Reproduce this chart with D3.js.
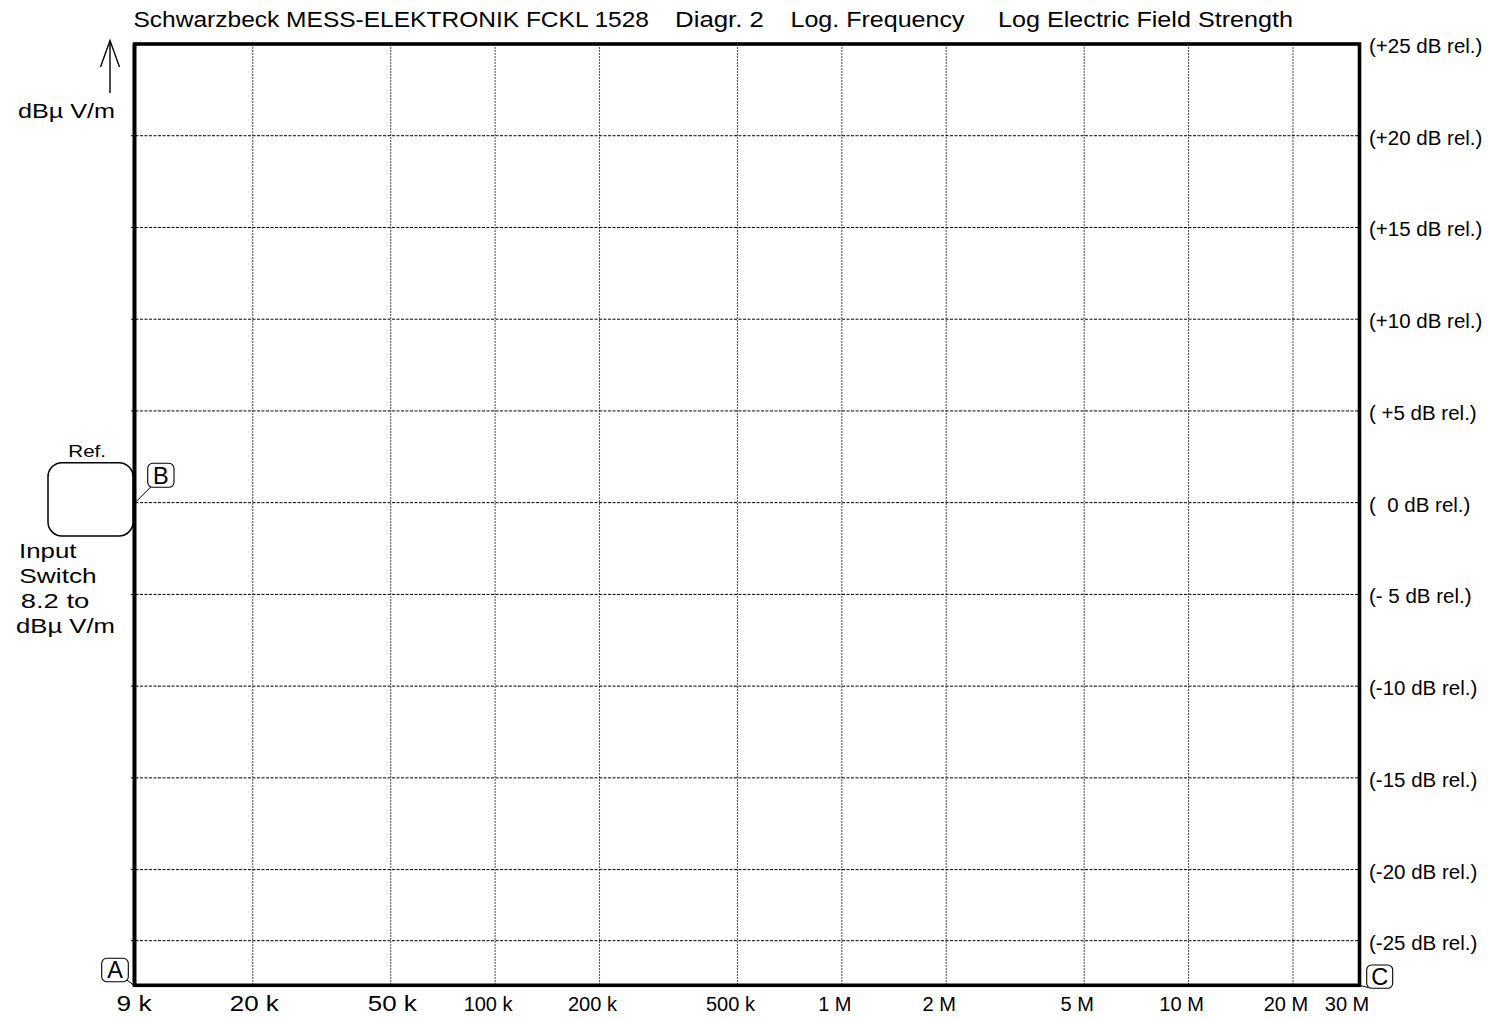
<!DOCTYPE html>
<html><head><meta charset="utf-8">
<script src="https://cdn.jsdelivr.net/npm/d3@7"></script>
<style>
html,body{margin:0;padding:0;background:#fff;}
svg text{font-family:"Liberation Sans",Arial,Helvetica,sans-serif;white-space:pre;fill:#000;}
</style>
</head><body>
<svg id="chart" width="1488" height="1018"></svg>
<script>
// ---- data ----
const titleParts = ["Schwarzbeck MESS-ELEKTRONIK FCKL 1528", "Diagr. 2", "Log. Frequency", "Log Electric Field Strength"];
const freqTicks  = [9e3, 2e4, 5e4, 1e5, 2e5, 5e5, 1e6, 2e6, 5e6, 1e7, 2e7, 3e7];
const freqLabels = ["9 k", "20 k", "50 k", "100 k", "200 k", "500 k", "1 M", "2 M", "5 M", "10 M", "20 M", "30 M"];
const gridFreqs  = [2e4, 5e4, 1e5, 2e5, 5e5, 1e6, 2e6, 5e6, 1e7, 2e7];
const levels      = [25, 20, 15, 10, 5, 0, -5, -10, -15, -20, -25];
const levelLabels = ["(+25 dB rel.)", "(+20 dB rel.)", "(+15 dB rel.)", "(+10 dB rel.)", "( +5 dB rel.)", "(  0 dB rel.)", "(- 5 dB rel.)", "(-10 dB rel.)", "(-15 dB rel.)", "(-20 dB rel.)", "(-25 dB rel.)"];
const gridLevels  = [20, 15, 10, 5, 0, -5, -10, -15, -20, -25];
const unitLabel   = "dBµ V/m";
const switchLines = ["Input", "Switch", "8.2 to", "dBµ V/m"];
const refLabel    = "Ref.";
const markerA = "A", markerB = "B", markerC = "C";

// ---- layout ----
const W = 1488, H = 1018;
const frame = {l: 134.5, r: 1359.5, t: 44, b: 985.3};
const svg = d3.select("#chart");
svg.append("rect").attr("width", W).attr("height", H).attr("fill", "#fff");

const x = d3.scaleLog().domain([9e3, 3e7]).range([132.5, 1354]);
const y = d3.scaleLinear().domain([-25, -20, 25]).range([940.7, 869.6, 44]);

// vertical grid
svg.append("g").selectAll("line").data(gridFreqs).join("line")
  .attr("x1", d => x(d)).attr("x2", d => x(d))
  .attr("y1", frame.t).attr("y2", frame.b)
  .attr("stroke", "#5a5a5a").attr("stroke-width", 1.1).attr("stroke-dasharray", "2,1");

// horizontal grid
svg.append("g").selectAll("line").data(gridLevels).join("line")
  .attr("x1", 131).attr("x2", frame.r)
  .attr("y1", d => y(d)).attr("y2", d => y(d))
  .attr("stroke", "#000").attr("stroke-width", 1).attr("stroke-dasharray", "3,1.5");

// frame
svg.append("rect")
  .attr("x", frame.l).attr("y", frame.t)
  .attr("width", frame.r - frame.l).attr("height", frame.b - frame.t)
  .attr("fill", "none").attr("stroke", "#000").attr("stroke-width", 3.6);

// title
const titleX = [133.5, 675, 790.5, 998];
const titleW = [515.5, 89, 174, 295];
svg.append("g").selectAll("text").data(titleParts).join("text")
  .attr("x", (d, i) => titleX[i]).attr("y", 27)
  .attr("font-size", 21.5)
  .attr("textLength", (d, i) => titleW[i]).attr("lengthAdjust", "spacingAndGlyphs")
  .text(d => d);

// right level labels
svg.append("g").selectAll("text").data(levels).join("text")
  .attr("x", 1369).attr("y", d => y(d) + 9)
  .attr("font-size", 20.5)
  .text((d, i) => levelLabels[i]);

// x labels
const bigW = {"9 k": 35, "20 k": 49, "50 k": 49};
svg.append("g").selectAll("text").data(freqTicks).join("text")
  .each(function(d, i) {
    const lab = freqLabels[i];
    const t = d3.select(this).text(lab).attr("y", 1011);
    if (bigW[lab]) {
      t.attr("font-size", 21.5).attr("x", x(d) - bigW[lab] / 2 + 1.5)
       .attr("textLength", bigW[lab]).attr("lengthAdjust", "spacingAndGlyphs");
    } else {
      t.attr("font-size", 20).attr("text-anchor", "middle").attr("x", x(d) - 7);
    }
  });

// unit arrow
svg.append("line").attr("x1", 110).attr("x2", 110).attr("y1", 93).attr("y2", 41)
  .attr("stroke", "#000").attr("stroke-width", 1.4);
svg.append("path").attr("d", "M100.5,67 L110,40.5 L119.5,67")
  .attr("fill", "none").attr("stroke", "#000").attr("stroke-width", 1.4);
svg.append("text").attr("x", 18).attr("y", 118.3).attr("font-size", 21)
  .attr("textLength", 97).attr("lengthAdjust", "spacingAndGlyphs").text(unitLabel);

// Ref box
svg.append("rect").attr("x", 48).attr("y", 462.7).attr("width", 85).attr("height", 73.3)
  .attr("rx", 14).attr("fill", "#fff").attr("stroke", "#000").attr("stroke-width", 1.5);
svg.append("text").attr("x", 68.3).attr("y", 456.5).attr("font-size", 16.5)
  .attr("textLength", 37.7).attr("lengthAdjust", "spacingAndGlyphs").text(refLabel);

// input switch text
const swX = [19, 19.3, 20.7, 16];
const swW = [57.5, 77.4, 68.6, 99];
svg.append("g").selectAll("text").data(switchLines).join("text")
  .attr("x", (d, i) => swX[i]).attr("y", (d, i) => 558.3 + i * 25)
  .attr("font-size", 21)
  .attr("textLength", (d, i) => swW[i]).attr("lengthAdjust", "spacingAndGlyphs")
  .text(d => d);

// frame re-draw on top of ref box edge
svg.append("line").attr("x1", frame.l).attr("x2", frame.l).attr("y1", frame.t).attr("y2", frame.b)
  .attr("stroke", "#000").attr("stroke-width", 3.6);

// markers
function marker(label, bx, by, bw, bh, leader) {
  svg.append("path").attr("d", leader).attr("fill", "none").attr("stroke", "#000").attr("stroke-width", 1);
  svg.append("rect").attr("x", bx).attr("y", by).attr("width", bw).attr("height", bh)
    .attr("rx", 5).attr("fill", "#fff").attr("stroke", "#000").attr("stroke-width", 1.1);
  svg.append("text").attr("x", bx + bw / 2).attr("y", by + bh / 2 + 8.3)
    .attr("text-anchor", "middle").attr("font-size", 23.5).text(label);
}
marker(markerA, 101.7, 958.3, 26.6, 23.4, "M127,980 L134,985.5");
marker(markerB, 147.7, 463.3, 26.3, 24, "M151.7,486 L136,501.7");
marker(markerC, 1366.7, 965, 26, 23.3, "M1360,985.5 L1368,987.5");
</script>
</body></html>
